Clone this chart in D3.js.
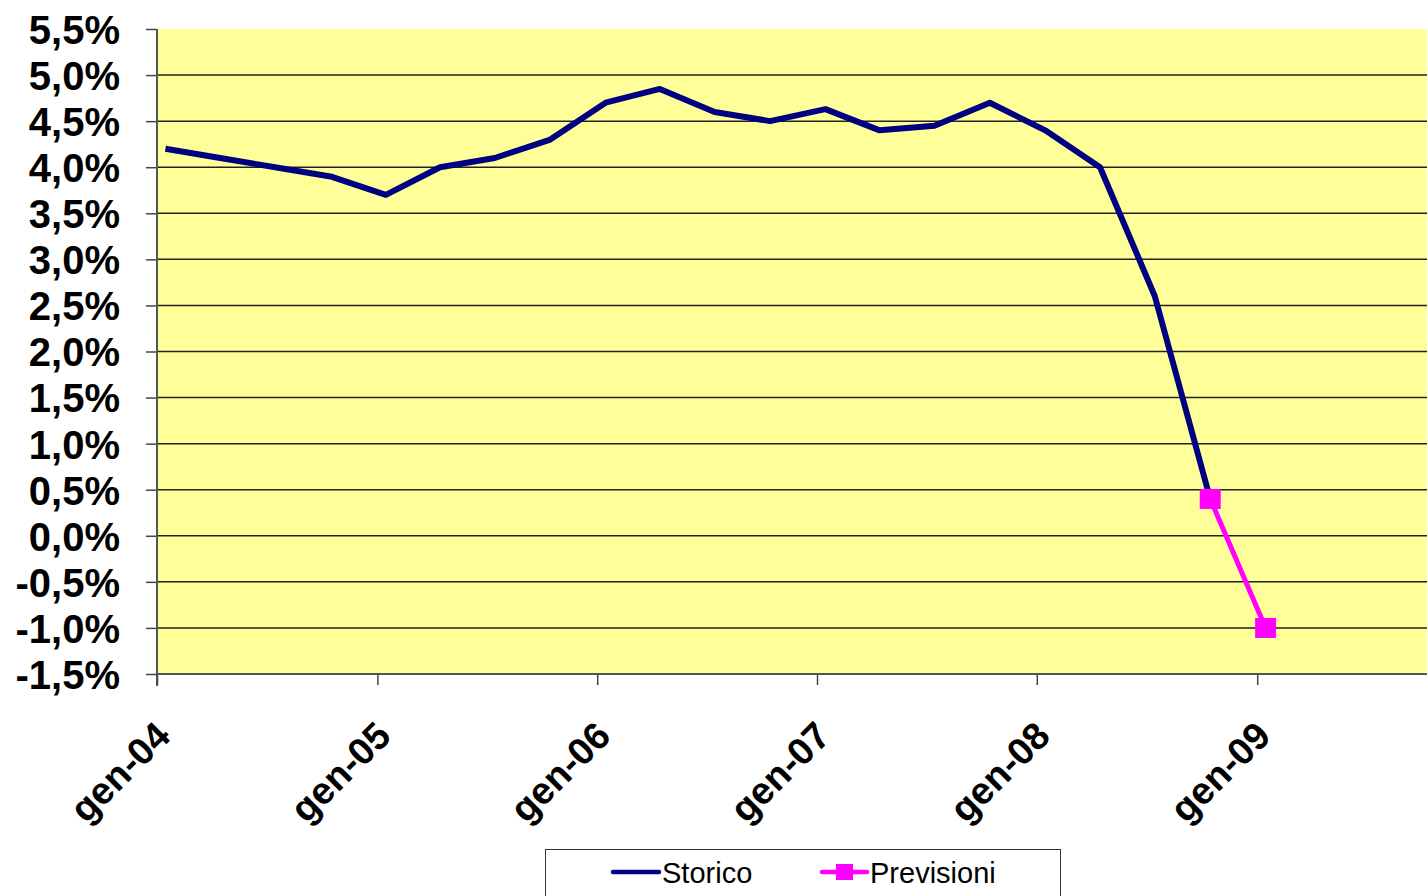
<!DOCTYPE html>
<html>
<head>
<meta charset="utf-8">
<script src="https://cdn.jsdelivr.net/npm/d3@7"></script>
<style>
  body { margin: 0; background: #fff; }
  svg { display: block; font-family: "Liberation Sans", Arial, sans-serif; }
</style>
</head>
<body>
<div id="chart"></div>
<script>
// quarterly data, mid-month
var storicoDates = ["2004-01-15","2004-04-15","2004-07-15","2004-10-15",
                    "2005-01-15","2005-04-15","2005-07-15","2005-10-15",
                    "2006-01-15","2006-04-15","2006-07-15","2006-10-15",
                    "2007-01-15","2007-04-15","2007-07-15","2007-10-15",
                    "2008-01-15","2008-04-15","2008-07-15","2008-10-15"];
var storicoValues = [4.2, 4.1, 4.0, 3.9,
                     3.7, 4.0, 4.1, 4.3,
                     4.7, 4.85, 4.6, 4.5,
                     4.63, 4.4, 4.45, 4.7,
                     4.4, 4.0, 2.6, 0.4];
var previsioniDates = ["2008-10-15","2009-01-15"];
var previsioniValues = [0.4, -1.0];

var xTickDates = ["2004-01-01","2005-01-01","2006-01-01","2007-01-01","2008-01-01","2009-01-01"];
var xTickLabels = ["gen-04","gen-05","gen-06","gen-07","gen-08","gen-09"];
var yTicks = [-1.5, -1.0, -0.5, 0, 0.5, 1.0, 1.5, 2.0, 2.5, 3.0, 3.5, 4.0, 4.5, 5.0, 5.5];
var seriesNames = ["Storico", "Previsioni"];

var width = 1427, height = 896;
var parse = d3.timeParse("%Y-%m-%d");

var svg = d3.select("#chart").append("svg")
    .attr("width", width)
    .attr("height", height);

// plot area: gen-04 at x=158, one year = 220px
var x = d3.scaleTime()
    .domain([parse("2004-01-01"), parse("2010-01-01")])
    .range([157, 157 + 6 * 220]);
var y = d3.scaleLinear()
    .domain([-1.5, 5.5])
    .range([674, 29]);

var it = d3.formatLocale({decimal: ",", thousands: ".", grouping: [3], currency: ["€", ""], minus: "-"});
var pct = it.format(".1f");

// yellow background
svg.append("rect")
    .attr("x", x.range()[0])
    .attr("y", y(5.5))
    .attr("width", width - x.range()[0])
    .attr("height", y(-1.5) - y(5.5))
    .style("fill", "#ffff99");

// grid lines
svg.append("g")
    .selectAll("line")
    .data(yTicks.filter(function(d){ return d > -1.5 && d < 5.5; }))
    .enter().append("line")
    .attr("x1", x.range()[0])
    .attr("x2", width)
    .attr("y1", function(d){ return y(d); })
    .attr("y2", function(d){ return y(d); })
    .style("stroke", "#222")
    .style("stroke-width", 1.5);

// y axis
var yAxis = svg.append("g")
    .attr("transform", "translate(" + x.range()[0] + ",0)")
    .call(d3.axisLeft(y).tickValues(yTicks).tickSize(11).tickPadding(26)
        .tickFormat(function(d){ return pct(d) + "%"; }));
yAxis.select(".domain").remove();
yAxis.append("line")
    .attr("x1", 0).attr("x2", 0)
    .attr("y1", y(5.5)).attr("y2", 686)
    .style("stroke", "#555").style("stroke-width", 2);
yAxis.selectAll(".tick line").style("stroke", "#444").style("stroke-width", 1.5);
yAxis.selectAll(".tick text")
    .attr("dy", "0.36em")
    .style("font-size", "40px")
    .style("font-weight", "bold")
    .style("fill", "#000");

// x axis
var xAxis = svg.append("g")
    .attr("transform", "translate(0," + y(-1.5) + ")")
    .call(d3.axisBottom(x).tickValues(xTickDates.map(parse)).tickSize(11)
        .tickFormat(function(d, i){ return xTickLabels[i]; }));
xAxis.select(".domain").remove();
xAxis.append("line")
    .attr("x1", x.range()[0]).attr("x2", width)
    .attr("y1", 0).attr("y2", 0)
    .style("stroke", "#555").style("stroke-width", 2);
xAxis.selectAll(".tick line").style("stroke", "#444").style("stroke-width", 1.5);
xAxis.selectAll(".tick text")
    .attr("y", 0).attr("dy", 0)
    .attr("transform", "translate(15,64) rotate(-45)")
    .style("text-anchor", "end")
    .style("font-size", "38px")
    .style("font-weight", "bold")
    .style("fill", "#000");

// lines
var line = d3.line()
    .x(function(d){ return x(d.date); })
    .y(function(d){ return y(d.value); });

var storico = storicoDates.map(function(d, i){ return {date: parse(d), value: storicoValues[i]}; });
var previsioni = previsioniDates.map(function(d, i){ return {date: parse(d), value: previsioniValues[i]}; });

svg.append("path")
    .datum(storico)
    .attr("d", line)
    .style("fill", "none")
    .style("stroke", "#000080")
    .style("stroke-width", 6)
    .style("stroke-linejoin", "round");

svg.append("path")
    .datum(previsioni)
    .attr("d", line)
    .style("fill", "none")
    .style("stroke", "#ff00ff")
    .style("stroke-width", 5);

svg.append("g")
    .selectAll("rect")
    .data(previsioni)
    .enter().append("rect")
    .attr("x", function(d){ return x(d.date) - 10.5; })
    .attr("y", function(d){ return y(d.value) - 10; })
    .attr("width", 21)
    .attr("height", 20)
    .style("fill", "#ff00ff");

// legend
var legend = svg.append("g");
legend.append("rect")
    .attr("x", 545.5).attr("y", 849.5)
    .attr("width", 515).attr("height", 60)
    .style("fill", "#fff")
    .style("stroke", "#333")
    .style("stroke-width", 1);

legend.append("line")
    .attr("x1", 613).attr("x2", 659)
    .attr("y1", 872).attr("y2", 872)
    .style("stroke", "#000080").style("stroke-width", 4.5)
    .style("stroke-linecap", "round");
legend.append("text")
    .attr("x", 662).attr("y", 883)
    .style("font-size", "29px")
    .text(seriesNames[0]);

legend.append("line")
    .attr("x1", 822).attr("x2", 867)
    .attr("y1", 872).attr("y2", 872)
    .style("stroke", "#ff00ff").style("stroke-width", 4.5)
    .style("stroke-linecap", "round");
legend.append("rect")
    .attr("x", 836).attr("y", 864)
    .attr("width", 17).attr("height", 16)
    .style("fill", "#ff00ff");
legend.append("text")
    .attr("x", 870).attr("y", 883)
    .style("font-size", "29px")
    .text(seriesNames[1]);
</script>
</body>
</html>
